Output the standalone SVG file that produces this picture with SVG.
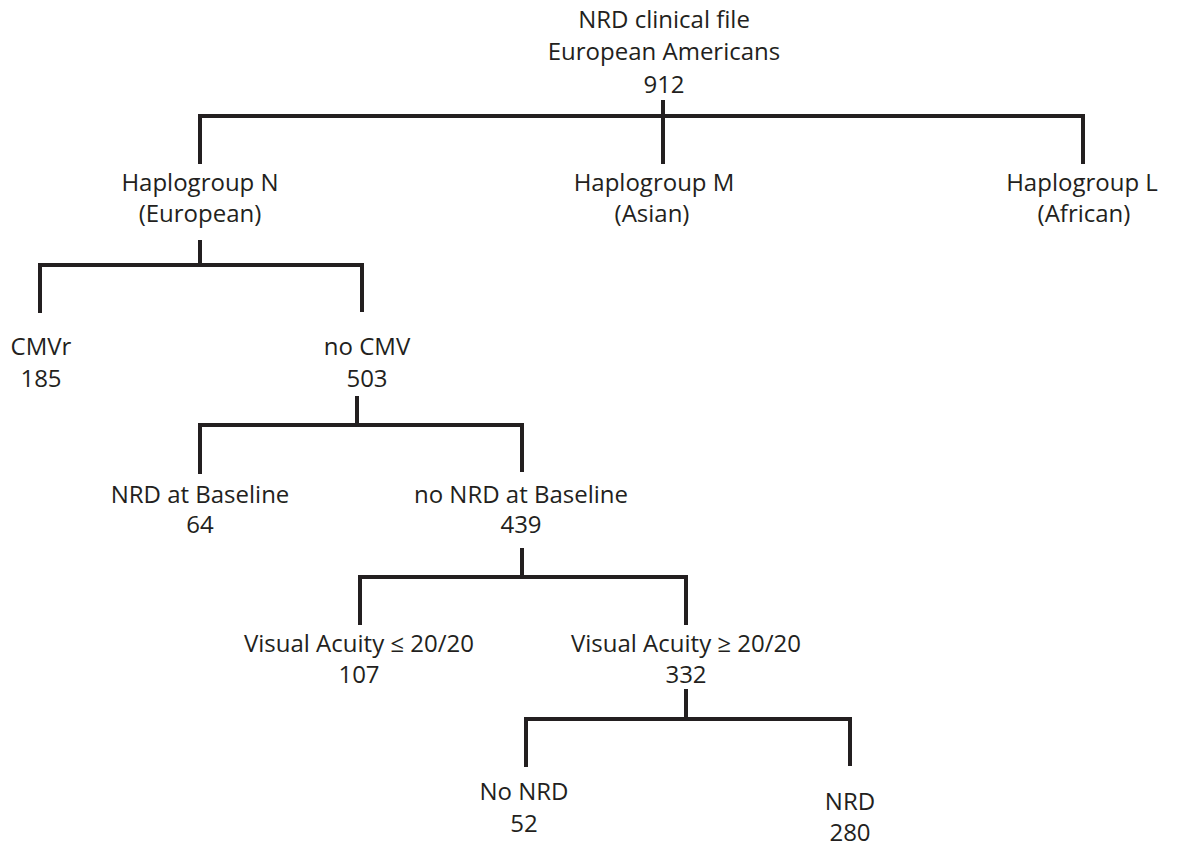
<svg xmlns="http://www.w3.org/2000/svg" width="1178" height="846" viewBox="0 0 1178 846">
<style>
text{font-family:"Open Sans","Noto Sans",sans-serif;font-size:24px;fill:#231f20;text-anchor:middle}
.c{stroke:#231f20;stroke-width:4;fill:none;stroke-linecap:butt}
</style>
<rect width="1178" height="846" fill="#ffffff"/>
<g id="connectors">
<path class="c" d="M663,100V164M200,164V116H1083V164"/>
<path class="c" d="M200,240V265M40,313V265H362M362,263V312"/>
<path class="c" d="M357,396V425M200,474V425H522M522,423V472"/>
<path class="c" d="M522,548V577M360,625V577H686M686,575V625"/>
<path class="c" d="M686,689V719M526,767V719H850M850,717V766"/>
</g>
<g id="root"><text x="664" y="28">NRD clinical file</text><text x="664" y="60">European Americans</text><text x="664" y="93">912</text></g>
<g id="hapN"><text x="200" y="191">Haplogroup N</text><text x="200" y="222">(European)</text></g>
<g id="hapM"><text x="654" y="191">Haplogroup M</text><text x="652" y="222">(Asian)</text></g>
<g id="hapL"><text x="1082" y="191">Haplogroup L</text><text x="1084" y="222">(African)</text></g>
<g id="cmvr"><text x="41" y="355">CMVr</text><text x="41" y="387">185</text></g>
<g id="nocmv"><text x="367" y="355">no CMV</text><text x="367" y="387">503</text></g>
<g id="nrdbase"><text x="200" y="503">NRD at Baseline</text><text x="200" y="533">64</text></g>
<g id="nonrdbase"><text x="521" y="503">no NRD at Baseline</text><text x="521" y="533">439</text></g>
<g id="valow"><text x="359" y="652">Visual Acuity ≤ 20/20</text><text x="359" y="683">107</text></g>
<g id="vahigh"><text x="686" y="652">Visual Acuity ≥ 20/20</text><text x="686" y="683">332</text></g>
<g id="nonrd"><text x="524" y="800">No NRD</text><text x="524" y="832">52</text></g>
<g id="nrd"><text x="850" y="810">NRD</text><text x="850" y="841">280</text></g>
</svg>
